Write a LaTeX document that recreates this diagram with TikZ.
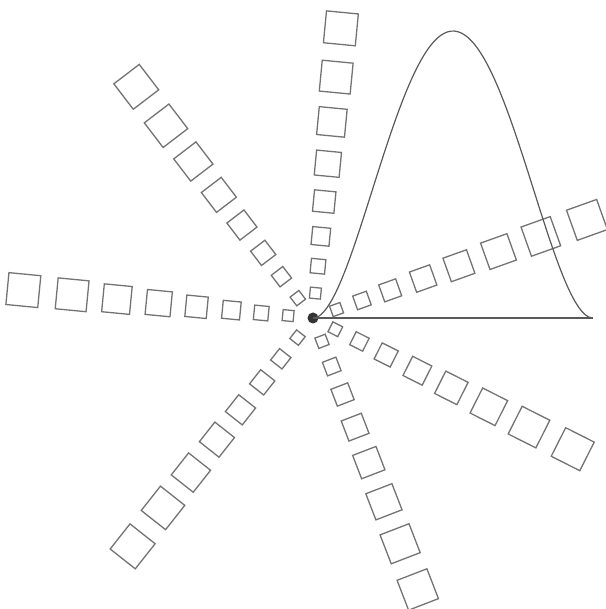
\documentclass[tikz,border=0pt]{standalone}
\usetikzlibrary{calc}

\begin{document}
\begin{tikzpicture}[x=1pt, y=1pt,
    sqbox/.style={draw=black!55, line width=1.3pt, inner sep=0pt, minimum size=#1},
    bell/.style={draw=black!65, line width=1.2pt}]
    \useasboundingbox (-313,-291) rectangle (292,318);

    \node[circle, fill=black!80, inner sep=0pt, minimum size=11pt] (c) at (0,0) {};

    % seven rays of growing squares
    \foreach \a [count=\r] in {19.7,84.5,127.4,174.5,231.7,291.1,333.2}{
        \foreach \d/\s [count=\k] in {25/11,52/14.5,82/18,117/21.5,155/25,197/28,242/31,291/32}
            \node[sqbox=\s pt, rotate=\a] (sq-\r-\k) at (\a:\d) {};
    }

    % the hump and its base line
    \coordinate (tail) at (280,0);
    \draw[bell] (c.center) -- (tail);
    \draw[bell] plot[smooth, domain=0:1, samples=80] ({280*\x}, {287*16*\x^2*(1-\x)^2});
\end{tikzpicture}
\end{document}
